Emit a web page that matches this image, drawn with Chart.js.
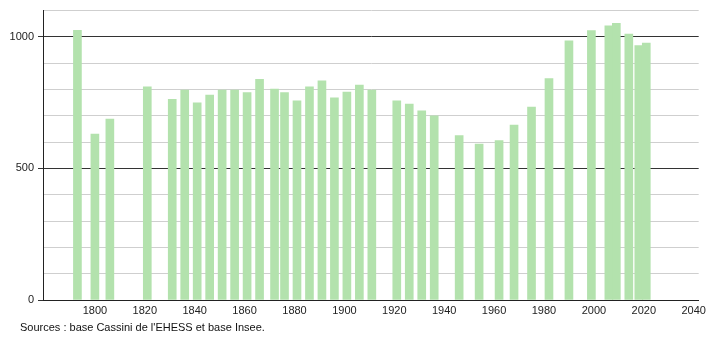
<!DOCTYPE html>
<html>
<head>
<meta charset="utf-8">
<script src="https://cdn.jsdelivr.net/npm/chart.js@4/dist/chart.umd.min.js"></script>
<style>
  html, body { margin: 0; padding: 0; background: #fff; }
  #wrap { width: 710px; height: 340px; position: relative; }
</style>
</head>
<body>
<div id="wrap"><canvas id="pop"></canvas></div>
<script>
// Années de recensement et population
const years = [1793, 1800, 1806, 1821, 1831, 1836, 1841, 1846, 1851, 1856,
  1861, 1866, 1872, 1876, 1881, 1886, 1891, 1896, 1901, 1906,
  1911, 1921, 1926, 1931, 1936, 1946, 1954, 1962, 1968, 1975,
  1982, 1990, 1999, 2006, 2009, 2014, 2018, 2021];
const population = [1025, 631, 688, 810, 763, 798, 749, 779, 798, 798,
  788, 839, 802, 788, 757, 810, 833, 768, 790, 817,
  798, 757, 745, 719, 700, 625, 593, 606, 665, 733,
  842, 985, 1024, 1042, 1052, 1011, 967, 977];
const xTicks = [1800, 1820, 1840, 1860, 1880, 1900, 1920, 1940, 1960, 1980, 2000, 2020, 2040];
const yLabels = [0, 500, 1000];
const sourceText = "Sources : base Cassini de l'EHESS et base Insee.";

const fontFamily = "'Liberation Sans', Arial, sans-serif";

// Texte des sources sous le graphique
const sourcePlugin = {
  id: 'sources',
  afterDraw(chart) {
    const ctx = chart.ctx;
    ctx.save();
    ctx.font = '11px ' + fontFamily;
    ctx.fillStyle = '#111';
    ctx.textBaseline = 'middle';
    ctx.fillText(sourceText, 20, 328);
    ctx.restore();
  }
};

const isMajor = v => yLabels.includes(v);

new Chart(document.getElementById('pop'), {
  type: 'bar',
  data: {
    datasets: [{
      data: years.map((y, i) => ({ x: y, y: population[i] })),
      backgroundColor: '#b3e2ad',
      barThickness: 8
    }]
  },
  options: {
    responsive: true,
    maintainAspectRatio: false,
    animation: false,
    layout: { padding: { top: 10, right: 10, left: 0, bottom: 0 } },
    plugins: { legend: { display: false }, tooltip: { enabled: false } },
    scales: {
      x: {
        type: 'linear',
        offset: false,
        min: 1779.2,
        max: 2042,
        afterBuildTicks: scale => { scale.ticks = xTicks.map(v => ({ value: v })); },
        afterFit: scale => { scale.height = 40; },
        grid: { display: false, drawTicks: false },
        border: { color: '#222', width: 1 },
        ticks: {
          color: '#222',
          font: { family: fontFamily, size: 11 },
          padding: 4,
          maxRotation: 0,
          callback: v => String(v)
        }
      },
      y: {
        min: 0,
        max: 1100,
        afterBuildTicks: scale => {
          const t = [];
          for (let v = 0; v <= 1100; v += 100) t.push({ value: v });
          scale.ticks = t;
        },
        afterFit: scale => { scale.width = 43; },
        border: { color: '#222', width: 1 },
        grid: {
          color: c => isMajor(c.tick.value) ? '#333' : '#cfcfcf',
          tickColor: c => isMajor(c.tick.value) ? '#333' : 'rgba(0,0,0,0)',
          tickLength: 5,
          lineWidth: 1
        },
        ticks: {
          color: '#222',
          font: { family: fontFamily, size: 11 },
          padding: 4,
          callback: v => isMajor(v) ? String(v) : ''
        }
      }
    }
  },
  plugins: [sourcePlugin]
});
</script>
</body>
</html>
